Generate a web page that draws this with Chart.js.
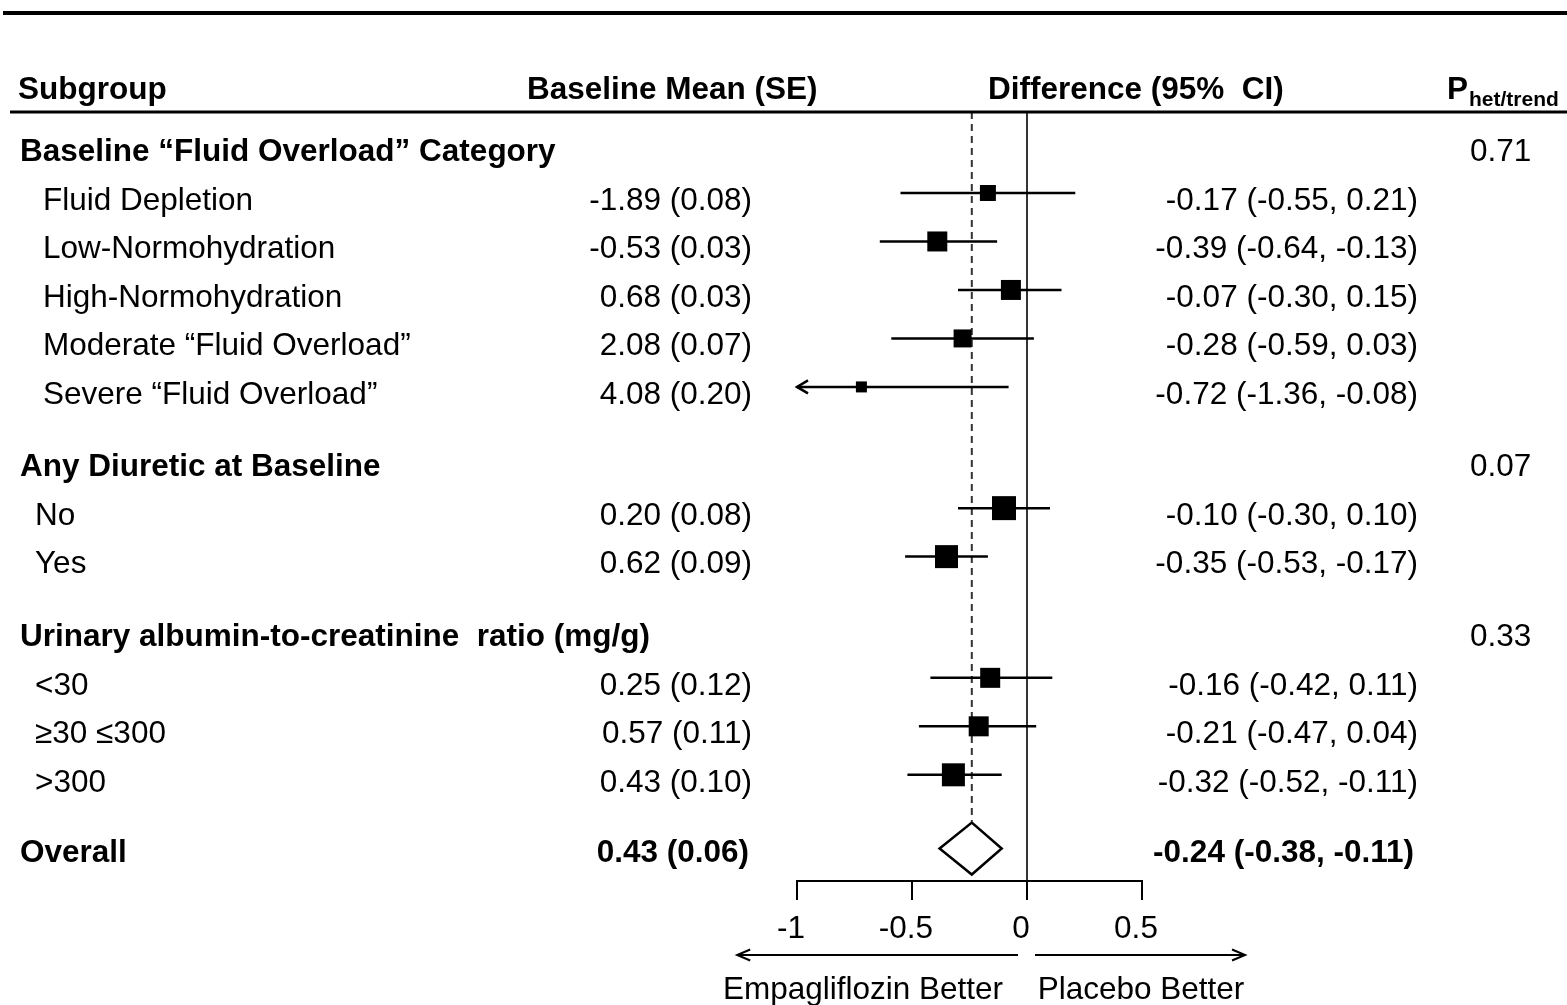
<!DOCTYPE html>
<html><head><meta charset="utf-8">
<script src="https://cdn.jsdelivr.net/npm/chart.js@4"></script>
<style>html,body{margin:0;padding:0;background:#fff}canvas{display:block}</style>
</head><body>
<canvas id="c" width="1567" height="1005"></canvas>
<script>
// ---------------- DATA ----------------
const columnHeaders = ['Subgroup', 'Baseline Mean (SE)', 'Difference (95%  CI)'];
const pHeaderMain = 'P';
const pHeaderSub = 'het/trend';

const groupLabels = ['Baseline \u201cFluid Overload\u201d Category', 'Any Diuretic at Baseline', 'Urinary albumin-to-creatinine  ratio (mg/g)'];
const groupRows = [-1, 5.5, 9];
const groupP = ['0.71', '0.07', '0.33'];

const subgroupLabels = ['Fluid Depletion', 'Low-Normohydration', 'High-Normohydration', 'Moderate \u201cFluid Overload\u201d', 'Severe \u201cFluid Overload\u201d', 'No', 'Yes', '<30', '\u226530 \u2264300', '>300'];
const subgroupRows = [0, 1, 2, 3, 4, 6.5, 7.5, 10, 11, 12];
const baselineMean = [-1.89, -0.53, 0.68, 2.08, 4.08, 0.20, 0.62, 0.25, 0.57, 0.43];
const baselineSE = [0.08, 0.03, 0.03, 0.07, 0.20, 0.08, 0.09, 0.12, 0.11, 0.10];
const diffEst = [-0.17, -0.39, -0.07, -0.28, -0.72, -0.10, -0.35, -0.16, -0.21, -0.32];
const diffLow = [-0.55, -0.64, -0.30, -0.59, -1.36, -0.30, -0.53, -0.42, -0.47, -0.52];
const diffHigh = [0.21, -0.13, 0.15, 0.03, -0.08, 0.10, -0.17, 0.11, 0.04, -0.11];

const overallLabel = 'Overall';
const overallRow = 13.5;
const overallMean = 0.43, overallSE = 0.06;
const overallDiff = -0.24, overallLow = -0.38, overallHigh = -0.11;

const xTickValues = [-1, -0.5, 0, 0.5];
const xTickLabels = ['-1', '-0.5', '0', '0.5'];
const leftArrowLabel = 'Empagliflozin Better';
const rightArrowLabel = 'Placebo Better';

// ---------------- STYLE ----------------
const FONT = '"Liberation Sans", Arial, Helvetica, sans-serif';
const FS = 31.5;
const markerSide = [16, 20, 20, 18, 11, 24, 23, 20, 20, 23];
const TEXT_DY = 8;

function fmt(v) { return v.toFixed(2); }

const forestPlugin = {
  id: 'forest',
  beforeDatasetsDraw(chart) {
    const ctx = chart.ctx, xs = chart.scales.x, ys = chart.scales.y;
    const xmin = xs.min;
    ctx.save();
    ctx.strokeStyle = '#333';
    ctx.lineWidth = 2;
    ctx.setLineDash([7, 5]);
    const xd = xs.getPixelForValue(overallDiff);
    ctx.beginPath();
    ctx.moveTo(xd, chart.chartArea.top);
    ctx.lineTo(xd, ys.getPixelForValue(overallRow) - 26);
    ctx.stroke();
    ctx.setLineDash([]);
    ctx.strokeStyle = '#000';
    ctx.lineWidth = 2.5;
    for (let i = 0; i < subgroupLabels.length; i++) {
      const y = ys.getPixelForValue(subgroupRows[i]);
      const clipped = diffLow[i] < xmin;
      const x1 = xs.getPixelForValue(Math.max(diffLow[i], xmin));
      const x2 = xs.getPixelForValue(diffHigh[i]);
      ctx.beginPath();
      ctx.moveTo(x1, y); ctx.lineTo(x2, y);
      ctx.stroke();
      if (clipped) {
        ctx.beginPath();
        ctx.moveTo(x1 + 11, y - 6.5); ctx.lineTo(x1, y); ctx.lineTo(x1 + 11, y + 6.5);
        ctx.stroke();
      }
    }
    ctx.restore();
  },
  afterDatasetsDraw(chart) {
    const ctx = chart.ctx, xs = chart.scales.x, ys = chart.scales.y;
    const y = ys.getPixelForValue(overallRow) + 1;
    const xl = xs.getPixelForValue(overallLow), xc = xs.getPixelForValue(overallDiff), xh = xs.getPixelForValue(overallHigh);
    ctx.save();
    ctx.beginPath();
    ctx.moveTo(xl, y); ctx.lineTo(xc, y - 26); ctx.lineTo(xh, y); ctx.lineTo(xc, y + 26); ctx.closePath();
    ctx.fillStyle = '#fff'; ctx.fill();
    ctx.strokeStyle = '#000'; ctx.lineWidth = 2.5; ctx.lineJoin = 'miter'; ctx.stroke();
    ctx.restore();
  },
  afterDraw(chart) {
    const ctx = chart.ctx, xs = chart.scales.x, ys = chart.scales.y;
    const W = chart.width;
    ctx.save();
    ctx.fillStyle = '#000';
    ctx.strokeStyle = '#000';
    ctx.lineWidth = 4;
    ctx.beginPath(); ctx.moveTo(3, 13); ctx.lineTo(W, 13); ctx.stroke();
    ctx.lineWidth = 3;
    ctx.beginPath(); ctx.moveTo(10, chart.chartArea.top); ctx.lineTo(W, chart.chartArea.top); ctx.stroke();

    ctx.textBaseline = 'middle';
    ctx.font = 'bold ' + FS + 'px ' + FONT;
    ctx.textAlign = 'left';
    ctx.fillText(columnHeaders[0], 18, 90);
    ctx.fillText(columnHeaders[1], 527, 90);
    ctx.fillText(columnHeaders[2], 988, 90);
    ctx.fillText(pHeaderMain, 1447, 90);
    const pw = ctx.measureText(pHeaderMain).width;
    ctx.font = 'bold 21px ' + FONT;
    ctx.fillText(pHeaderSub, 1447 + pw + 1, 100);

    for (let g = 0; g < groupLabels.length; g++) {
      const y = ys.getPixelForValue(groupRows[g]) + TEXT_DY;
      ctx.font = 'bold ' + FS + 'px ' + FONT;
      ctx.textAlign = 'left';
      ctx.fillText(groupLabels[g], 20, y);
      ctx.font = FS + 'px ' + FONT;
      ctx.fillText(groupP[g], 1470, y);
    }
    ctx.font = FS + 'px ' + FONT;
    for (let i = 0; i < subgroupLabels.length; i++) {
      const y = ys.getPixelForValue(subgroupRows[i]) + TEXT_DY;
      ctx.textAlign = 'left';
      ctx.fillText(subgroupLabels[i], i < 5 ? 43 : 35, y);
      ctx.textAlign = 'right';
      ctx.fillText(fmt(baselineMean[i]) + ' (' + fmt(baselineSE[i]) + ')', 752, y);
      ctx.fillText(fmt(diffEst[i]) + ' (' + fmt(diffLow[i]) + ', ' + fmt(diffHigh[i]) + ')', 1418, y);
    }
    {
      const y = ys.getPixelForValue(overallRow) + TEXT_DY - 2;
      ctx.font = 'bold ' + FS + 'px ' + FONT;
      ctx.textAlign = 'left';
      ctx.fillText(overallLabel, 20, y);
      ctx.textAlign = 'right';
      ctx.fillText(fmt(overallMean) + ' (' + fmt(overallSE) + ')', 749, y);
      ctx.fillText(fmt(overallDiff) + ' (' + fmt(overallLow) + ', ' + fmt(overallHigh) + ')', 1414, y);
    }
    const x0 = xs.getPixelForValue(0);
    const ay = 955;
    ctx.lineWidth = 2;
    const lx = xs.getPixelForValue(-1.26), rx = xs.getPixelForValue(0.948);
    ctx.beginPath(); ctx.moveTo(x0 - 9, ay); ctx.lineTo(lx, ay); ctx.stroke();
    ctx.beginPath(); ctx.moveTo(lx + 13, ay - 5.5); ctx.lineTo(lx, ay); ctx.lineTo(lx + 13, ay + 5.5); ctx.stroke();
    ctx.beginPath(); ctx.moveTo(x0 + 8, ay); ctx.lineTo(rx, ay); ctx.stroke();
    ctx.beginPath(); ctx.moveTo(rx - 13, ay - 5.5); ctx.lineTo(rx, ay); ctx.lineTo(rx - 13, ay + 5.5); ctx.stroke();
    ctx.font = FS + 'px ' + FONT;
    ctx.textAlign = 'center';
    ctx.fillText(leftArrowLabel, 863, 990);
    ctx.fillText(rightArrowLabel, 1141, 990);
    ctx.restore();
  }
};

new Chart(document.getElementById('c'), {
  type: 'scatter',
  data: {
    datasets: [{
      data: subgroupLabels.map((s, i) => ({ x: diffEst[i], y: subgroupRows[i] })),
      pointStyle: 'rect',
      pointRadius: markerSide.map(s => s / Math.SQRT2),
      backgroundColor: '#000',
      borderColor: '#000',
      borderWidth: 0
    }]
  },
  options: {
    responsive: false,
    animation: false,
    events: [],
    layout: { padding: { left: 797, right: 425, top: 112, bottom: 64 } },
    plugins: { legend: { display: false }, tooltip: { enabled: false } },
    scales: {
      x: {
        type: 'linear',
        min: -1, max: 0.5,
        afterBuildTicks: (s) => { s.ticks = xTickValues.map(v => ({ value: v })); },
        afterFit: (s) => { s.height = 60; },
        ticks: {
          callback: (v) => xTickLabels[xTickValues.indexOf(v)],
          color: '#000',
          font: { family: FONT, size: FS },
          padding: 10,
          labelOffset: -6,
          maxRotation: 0,
          autoSkip: false
        },
        grid: {
          drawOnChartArea: true,
          drawTicks: true,
          tickLength: 19,
          tickColor: '#000',
          tickWidth: 2,
          lineWidth: 2,
          color: (c) => (c.tick && c.tick.value === 0) ? '#333' : 'rgba(0,0,0,0)'
        },
        border: { display: true, color: '#000', width: 2 }
      },
      y: {
        type: 'linear',
        display: false,
        reverse: true,
        min: -1.67, max: 14.19
      }
    }
  },
  plugins: [forestPlugin]
});
</script>
</body></html>
